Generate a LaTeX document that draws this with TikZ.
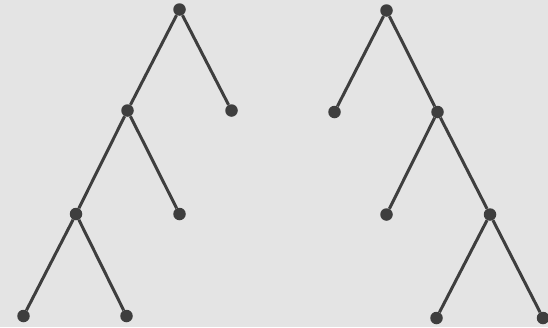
\documentclass[tikz,border=0pt]{standalone}
\definecolor{paper}{RGB}{228,228,228}
\definecolor{ink}{RGB}{62,62,62}
\begin{document}
\begin{tikzpicture}[x=1pt,y=-1pt,
  dot/.style={circle,fill=ink,inner sep=0pt,minimum size=12.5pt},
  edge/.style={draw=ink,line width=3pt}]
\fill[paper] (0,0) rectangle (548,327);
\useasboundingbox (0,0) rectangle (548,327);
% left tree
\node[dot] (a) at (179.5,9.5) {};
\node[dot] (b) at (127.5,110.5) {};
\node[dot] (c) at (231.5,110.5) {};
\node[dot] (d) at (76,214) {};
\node[dot] (e) at (179.5,214) {};
\node[dot] (f) at (23.5,316) {};
\node[dot] (g) at (126.5,316) {};
\draw[edge] (a) -- (b);
\draw[edge] (a) -- (c);
\draw[edge] (b) -- (d);
\draw[edge] (b) -- (e);
\draw[edge] (d) -- (f);
\draw[edge] (d) -- (g);
% right tree
\node[dot] (p) at (386.5,10.5) {};
\node[dot] (q) at (334.5,112) {};
\node[dot] (r) at (437.5,112) {};
\node[dot] (s) at (386.5,214.5) {};
\node[dot] (t) at (490,214.5) {};
\node[dot] (u) at (436.5,318) {};
\node[dot] (v) at (543,318) {};
\draw[edge] (p) -- (q);
\draw[edge] (p) -- (r);
\draw[edge] (r) -- (s);
\draw[edge] (r) -- (t);
\draw[edge] (t) -- (u);
\draw[edge] (t) -- (v);
\end{tikzpicture}
\end{document}
